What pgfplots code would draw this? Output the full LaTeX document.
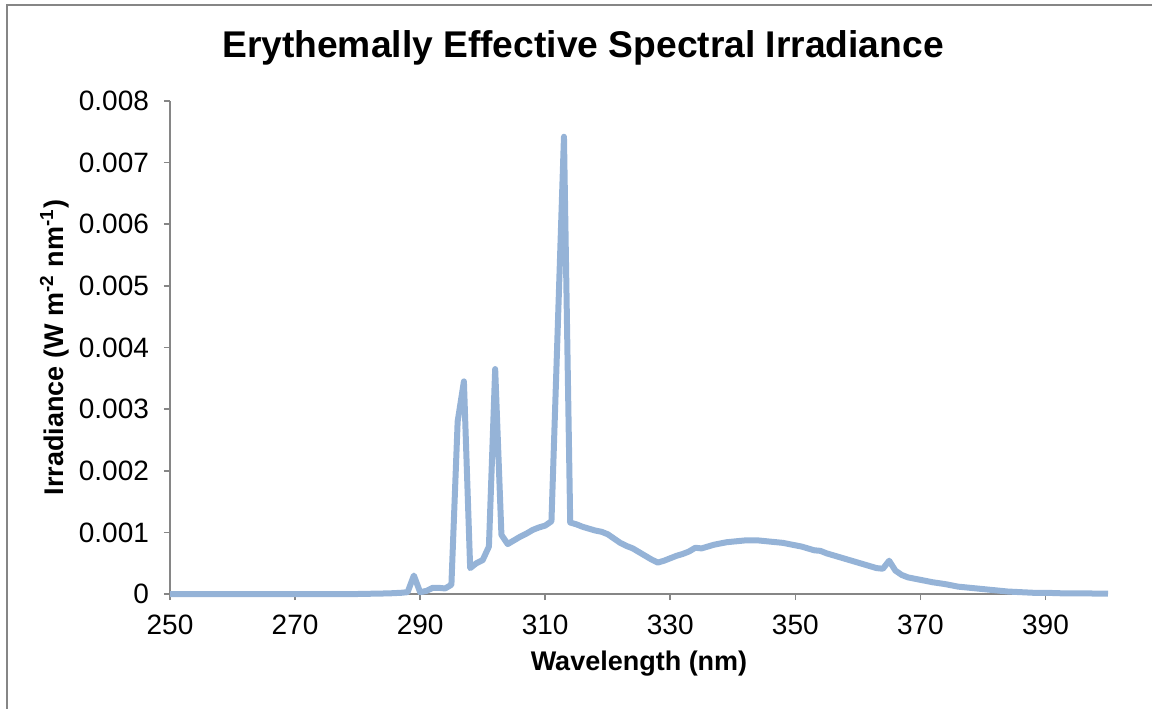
\documentclass[border=0pt]{standalone}
\usepackage{fontspec}
\setmainfont{Liberation Sans}
\usepackage{pgfplots}
\pgfplotsset{compat=1.18}
\definecolor{linecol}{RGB}{149,179,215}
\definecolor{axgray}{RGB}{134,134,134}

\begin{document}
\begin{tikzpicture}
\useasboundingbox (0,0) rectangle (576pt,354pt);
% chart area frame (only left and top edges are visible)
\draw[axgray, line width=1pt] (3.5pt,-5pt) -- (3.5pt,351.5pt) -- (590pt,351.5pt);
\node[font=\bfseries\fontsize{18.6}{22}\selectfont] at (291.5pt,330pt)
  {Erythemally Effective Spectral Irradiance};
\begin{axis}[
    at={(85pt,57pt)}, anchor=south west,
    scale only axis, width=469pt, height=246.5pt,
    xmin=250, xmax=400, ymin=0, ymax=0.008,
    axis lines=left,
    axis line style={axgray, line width=0.8pt, -},
    tick style={axgray, line width=0.8pt},
    tick align=outside,
    major tick length=3pt,
    xtick={250,270,290,310,330,350,370,390},
    ytick={0,0.001,0.002,0.003,0.004,0.005,0.006,0.007,0.008},
    yticklabels={0,0.001,0.002,0.003,0.004,0.005,0.006,0.007,0.008},
    scaled y ticks=false,
    /pgf/number format/assume math mode=true,
    tick label style={font=\fontsize{14}{16}\selectfont, black},
    yticklabel style={xshift=-4pt},
    xticklabel style={yshift=-4pt},
    xlabel={Wavelength (nm)},
    ylabel={Irradiance (W m\textsuperscript{-2} nm\textsuperscript{-1})},
    label style={font=\bfseries\fontsize{13.5}{16}\selectfont},
    xlabel style={at={(axis description cs:0.5,-0.142)}, anchor=center},
    ylabel style={at={(axis description cs:-0.123,0.5)}, anchor=center},
    clip=false,
]
\addplot[linecol, line width=3pt, line join=round] coordinates {
(250,0) (260,0) (270,0) (280,0) (285,0.00001) (287,0.00002) (288,0.00003)
(289,0.0003) (290,0.00003) (291,0.00005) (292,0.0001) (293,0.0001) (294,0.00009)
(295,0.00015) (296,0.0028) (297,0.00345) (298,0.00042) (299,0.0005) (300,0.00055)
(301,0.00077) (302,0.00365) (303,0.00096) (304,0.00081) (305,0.00087) (306,0.00093)
(307,0.00098) (308,0.00104) (309,0.00108) (310,0.00111) (311,0.00118) (313,0.00742)
(314,0.00116) (315,0.00113) (316,0.00109) (317,0.00106) (318,0.00103) (319,0.00101)
(320,0.00097) (321,0.0009) (322,0.00083) (323,0.00078) (324,0.00074) (325,0.00068)
(326,0.00062) (327,0.00056) (328,0.00051) (329,0.00054) (330,0.00058) (331,0.00062)
(332,0.00065) (333,0.00069) (334,0.00075) (335,0.00074) (336,0.00077) (337,0.0008)
(338,0.00082) (339,0.00084) (340,0.00085) (341,0.00086) (342,0.00087) (343,0.00087)
(344,0.00087) (345,0.00086) (346,0.00085) (347,0.00084) (348,0.00083) (349,0.00081)
(350,0.00079) (351,0.00077) (352,0.00074) (353,0.00071) (354,0.0007) (355,0.00066)
(356,0.00063) (357,0.0006) (358,0.00057) (359,0.00054) (360,0.00051) (361,0.00048)
(362,0.00045) (363,0.00042) (364,0.00041) (365,0.00054) (366,0.00038) (367,0.00031)
(368,0.00027) (369,0.00025) (370,0.00023) (372,0.00019) (374,0.00016) (376,0.00012)
(378,0.0001) (380,0.00008) (382,0.00006) (384,0.00004) (386,0.00003) (388,0.00002)
(390,0.00002) (393,0.00001) (396,0.00001) (400,0.000005)
};
\end{axis}
\end{tikzpicture}
\end{document}
